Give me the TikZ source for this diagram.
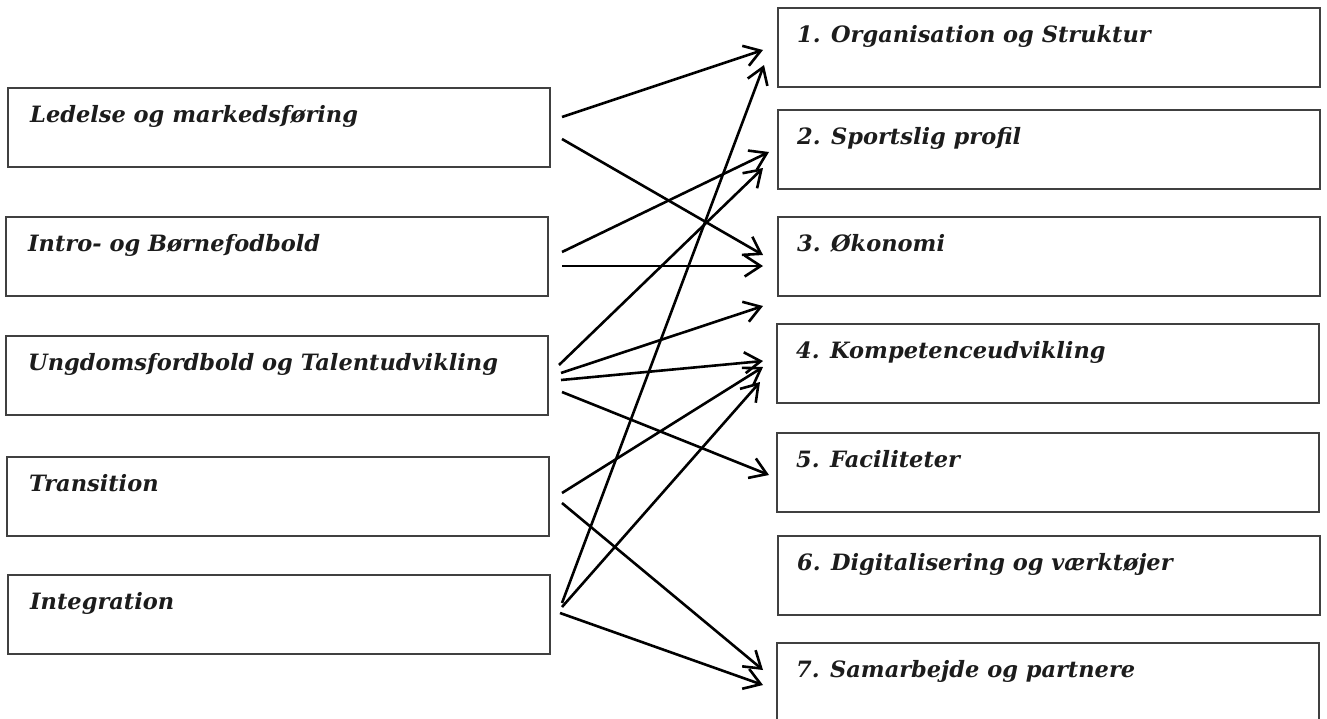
\documentclass[tikz,border=0pt]{standalone}
\usepackage{fontspec}
\setmainfont{DejaVu Serif}
\usetikzlibrary{arrows.meta,calc}
\definecolor{boxgray}{HTML}{404040}
\definecolor{txt}{HTML}{1C1C1C}
\begin{document}
\begin{tikzpicture}[x=1pt,y=-1pt,
  box/.style={draw=boxgray, line width=1.5pt, minimum width=542pt, minimum height=79pt, inner sep=0pt, outer sep=0pt, anchor=north west},
  lbl/.style={anchor=base west, inner sep=0pt, font=\fontsize{22.5}{27}\selectfont\bfseries\itshape, text=txt},
  arr/.style={line width=2.6pt, draw=black, -{Straight Barb[length=16pt, width=21pt]}}]
\useasboundingbox (0,0) rectangle (1327,718);
% left boxes
\node[box] (L1) at (8,88) {};
\node[box] (L2) at (6,217) {};
\node[box] (L3) at (6,336) {};
\node[box] (L4) at (7,457) {};
\node[box] (L5) at (8,575) {};
% right boxes
\node[box] (R1) at (778,8) {};
\node[box] (R2) at (778,110) {};
\node[box] (R3) at (778,217) {};
\node[box] (R4) at (777,324) {};
\node[box] (R5) at (777,433) {};
\node[box] (R6) at (778,536) {};
\node[box] (R7) at (777,643) {};
% labels
\node[lbl] (L1t) at ($(L1.north west)+(22,34)$) {Ledelse og markedsføring};
\node[lbl] (L2t) at ($(L2.north west)+(22,34)$) {Intro- og Børnefodbold};
\node[lbl] (L3t) at ($(L3.north west)+(22,34)$) {Ungdomsfordbold og Talentudvikling};
\node[lbl] (L4t) at ($(L4.north west)+(22,34)$) {Transition};
\node[lbl] (L5t) at ($(L5.north west)+(22,34)$) {Integration};
\node[lbl] (R1t) at ($(R1.north west)+(19,34)$) {1. Organisation og Struktur};
\node[lbl] (R2t) at ($(R2.north west)+(19,34)$) {2. Sportslig profil};
\node[lbl] (R3t) at ($(R3.north west)+(19,34)$) {3. Økonomi};
\node[lbl] (R4t) at ($(R4.north west)+(19,34)$) {4. Kompetenceudvikling};
\node[lbl] (R5t) at ($(R5.north west)+(19,34)$) {5. Faciliteter};
\node[lbl] (R6t) at ($(R6.north west)+(19,34)$) {6. Digitalisering og værktøjer};
\node[lbl] (R7t) at ($(R7.north west)+(19,34)$) {7. Samarbejde og partnere};
% arrow end points
\coordinate (a1s) at (562,117); \coordinate (a1e) at (763,50);
\coordinate (a2s) at (562,139); \coordinate (a2e) at (763,255);
\coordinate (a3s) at (562,252); \coordinate (a3e) at (769,152);
\coordinate (a4s) at (562,266); \coordinate (a4e) at (763,266);
\coordinate (a5s) at (559,365); \coordinate (a5e) at (763,168);
\coordinate (a6s) at (561,373); \coordinate (a6e) at (763,306);
\coordinate (a7s) at (561,380); \coordinate (a7e) at (763,361);
\coordinate (a8s) at (562,392); \coordinate (a8e) at (769,475);
\coordinate (a9s) at (562,493); \coordinate (a9e) at (763,367);
\coordinate (a10s) at (562,503); \coordinate (a10e) at (763,670);
\coordinate (a11s) at (562,603); \coordinate (a11e) at (764,65);
\coordinate (a12s) at (562,607); \coordinate (a12e) at (760,382);
\coordinate (a13s) at (560,613); \coordinate (a13e) at (763,685);
\foreach \i in {1,...,13} {\draw[arr] (a\i s) -- (a\i e);}
\end{tikzpicture}
\end{document}
